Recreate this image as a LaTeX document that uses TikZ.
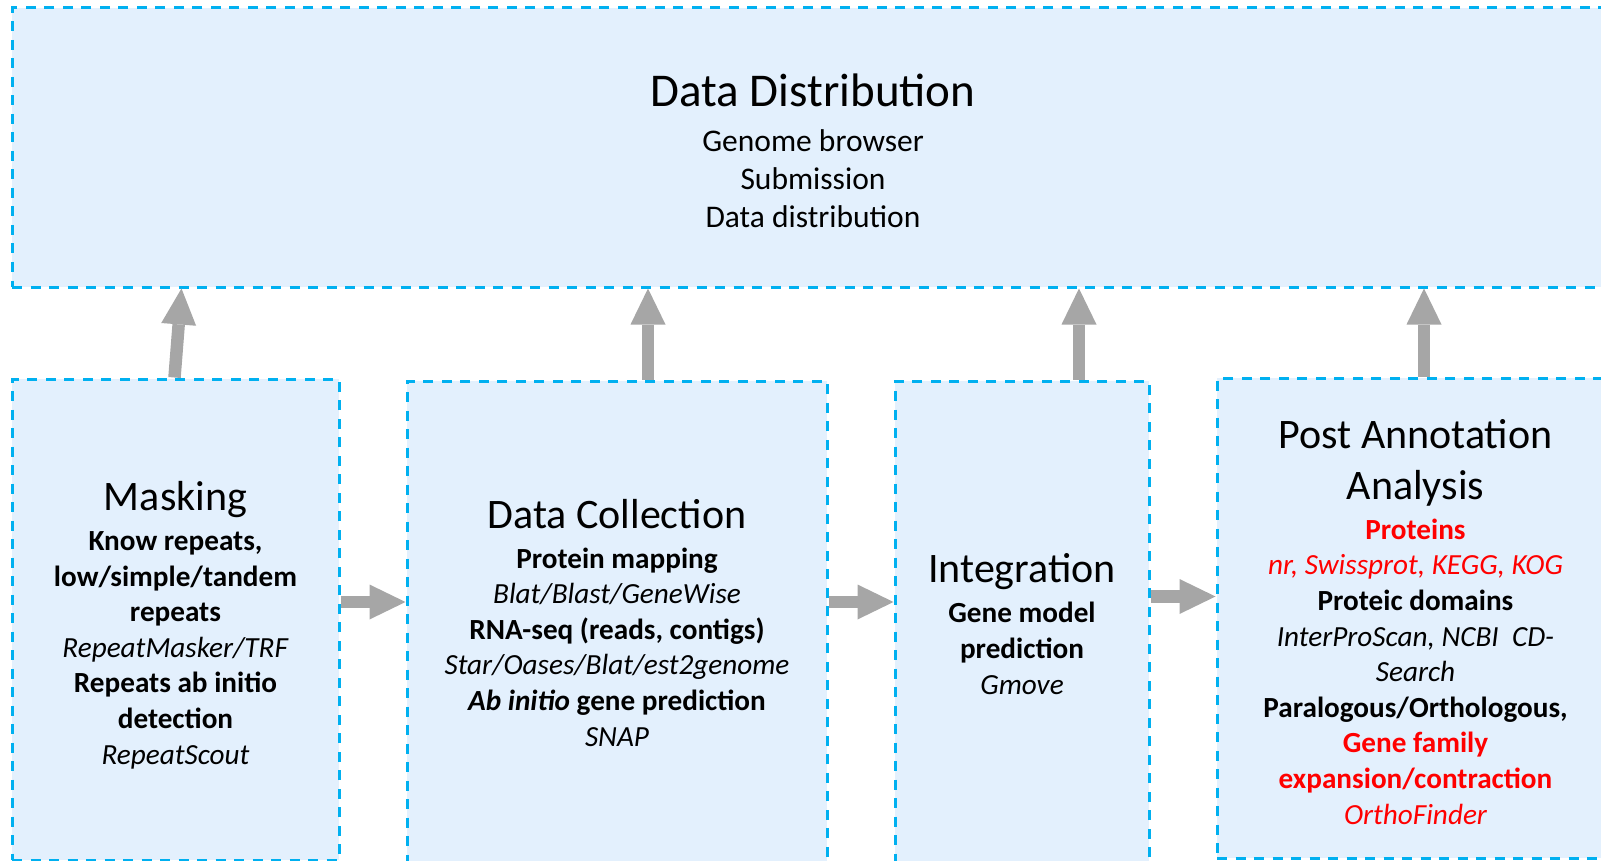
\documentclass[tikz,border=0pt]{standalone}
\usepackage{fontspec}
\setmainfont{Carlito}
\usetikzlibrary{arrows.meta,calc}
\definecolor{boxfill}{HTML}{E3F0FD}
\definecolor{boxline}{HTML}{00B0F0}
\definecolor{arrgray}{HTML}{A6A6A6}
\definecolor{txtred}{HTML}{FF0000}
\newcommand{\BigT}{\fontsize{47}{57}\selectfont}
\newcommand{\MidT}{\fontsize{42}{51}\selectfont}
\begin{document}
\begin{tikzpicture}[x=1pt,y=-1pt,
  box/.style={rectangle, draw=boxline, fill=boxfill, line width=3pt, dash pattern=on 10pt off 8.5pt, inner sep=0pt},
  blockarrow/.style={draw=arrgray, line width=12.5pt, -{Triangle[length=36pt,width=35pt,line width=0pt,color=arrgray]}},
  txt/.style={align=center, inner sep=0pt, anchor=base, font=\fontsize{29.2}{35.6}\selectfont},
  toptxt/.style={align=center, inner sep=0pt, anchor=base, font=\fontsize{31.5}{38.5}\selectfont}]
\useasboundingbox (0,0) rectangle (1601,861);
\clip (0,0) rectangle (1601,861);

% boxes
\node[box, minimum width=1602pt, minimum height=279pt] (dist) at (813,147.5) {};
\node[box, minimum width=327pt, minimum height=481pt] (mask) at (175.5,619.5) {};
\node[box, minimum width=420pt, minimum height=481pt] (coll) at (617,621.5) {};
\node[box, minimum width=254pt, minimum height=481pt] (integ) at (1022,621.5) {};
\node[box, minimum width=397pt, minimum height=480pt] (post) at (1415.5,618) {};

% texts
\node[toptxt] (disttxt) at (813,228) {{\BigT Data Distribution}\\[5.5pt]
  Genome browser\\ Submission\\ Data distribution};

\node[txt] (masktxt) at (175.5,764) {{\MidT Masking}\\[4.4pt]
  \textbf{Know repeats,}\\ \textbf{low/simple/tandem}\\ \textbf{repeats}\\
  \textit{RepeatMasker/TRF}\\ \textbf{Repeats ab initio}\\ \textbf{detection}\\
  \textit{RepeatScout}};

\node[txt] (colltxt) at (617,746) {{\MidT Data Collection}\\[4.4pt]
  \textbf{Protein mapping}\\ \textit{Blat/Blast/GeneWise}\\
  \textbf{RNA-seq (reads, contigs)}\\ \textit{Star/Oases/Blat/est2genome}\\
  \textbf{\textit{Ab initio} gene prediction}\\ \textit{SNAP}};

\node[txt] (integtxt) at (1022,694) {{\MidT Integration}\\[4.4pt]
  \textbf{Gene model}\\ \textbf{prediction}\\ \textit{Gmove}};

\node[txt] (posttxt) at (1415.5,824) {{\MidT Post Annotation}\\[15.4pt]
  {\MidT Analysis}\\[4.4pt]
  {\color{txtred}\bfseries Proteins}\\
  {\color{txtred}\itshape nr, Swissprot, KEGG, KOG}\\
  \textbf{Proteic domains}\\
  \textit{InterProScan, NCBI\ \ CD-}\\
  \textit{Search}\\
  \textbf{Paralogous/Orthologous,}\\
  {\color{txtred}\bfseries Gene family}\\
  {\color{txtred}\bfseries expansion/contraction}\\
  {\color{txtred}\itshape OrthoFinder}};

% up arrows
\coordinate (u1a) at ([xshift=164pt]mask.north west);
\coordinate (u1b) at ([xshift=171pt]dist.south west);
\draw[blockarrow] (u1a) -- (u1b);
\coordinate (u2) at ([xshift=31pt]coll.north);
\draw[blockarrow] (u2) -- (u2 |- dist.south);
\coordinate (u3) at ([xshift=57pt]integ.north);
\draw[blockarrow] (u3) -- (u3 |- dist.south);
\coordinate (u4) at ([xshift=8.5pt]post.north);
\draw[blockarrow] (u4) -- (u4 |- dist.south);

% right arrows
\coordinate (r1) at ([yshift=17.5pt]mask.east);
\draw[blockarrow] (r1) -- (r1 -| coll.west);
\coordinate (r2) at ([yshift=19.5pt]coll.east);
\draw[blockarrow] (r2) -- (r2 -| integ.west);
\coordinate (r3) at ([yshift=25pt]integ.east);
\draw[blockarrow] (r3) -- (r3 -| post.west);
\end{tikzpicture}
\end{document}
